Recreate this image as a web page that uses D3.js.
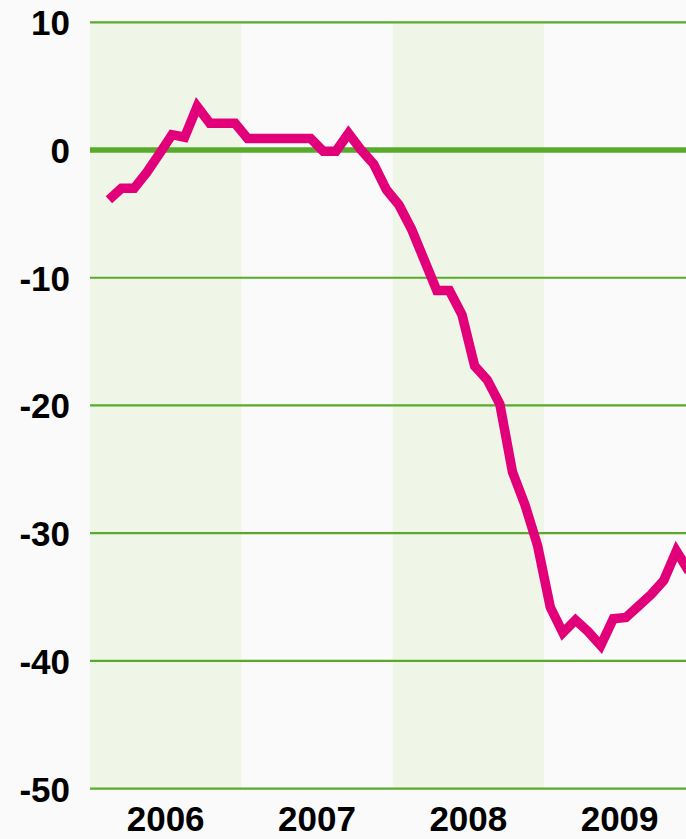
<!DOCTYPE html>
<html>
<head>
<meta charset="utf-8">
<script src="https://cdn.jsdelivr.net/npm/d3@7"></script>
<style>
  html, body { margin: 0; padding: 0; background: #fafafa; }
  svg { display: block; }
  text { font-family: "Liberation Sans", Arial, sans-serif; font-weight: bold; fill: #000; }
</style>
</head>
<body>
<svg id="chart" width="686" height="839"></svg>
<script>
// ---- data ----
const years = ["2006", "2007", "2008", "2009"];
const shadedYears = ["2006", "2008"];
const yTicks = [10, 0, -10, -20, -30, -40, -50];
// month index 0 = Jan 2006; series starts Feb 2006
const startMonth = 1;
const values = [
  -3.9, -3.0, -3.0, -1.75, -0.3, 1.2, 1.0, 3.4, 2.1, 2.1, 2.1,          // Feb-Dec 2006
  0.9, 0.9, 0.9, 0.9, 0.9, 0.9, -0.1, -0.1, 1.3, 0.0, -1.1, -3.1,        // 2007
  -4.3, -6.2, -8.6, -11.0, -11.0, -12.9, -16.9, -18.0, -19.9, -25.2, -27.8, -31.0, // 2008
  -35.8, -37.8, -36.8, -37.7, -38.8, -36.7, -36.6, -35.7, -34.8, -33.7, -31.4, -33.0 // 2009
];

// ---- layout ----
const svg = d3.select("#chart");
const x = d3.scaleLinear().domain([0, 48]).range([90, 695.3]);
const y = d3.scaleLinear().domain([-50, 10]).range([788.6, 22.3]);

// year bands
svg.append("g").selectAll("rect")
  .data(years.map((yr, i) => ({ yr, i })).filter(d => shadedYears.includes(d.yr)))
  .join("rect")
  .attr("x", d => x(d.i * 12))
  .attr("width", d => x(d.i * 12 + 12) - x(d.i * 12))
  .attr("y", y(10))
  .attr("height", y(-50) - y(10))
  .attr("fill", "#f0f6e7");

// gridlines
svg.append("g").selectAll("line")
  .data(yTicks)
  .join("line")
  .attr("x1", x(0))
  .attr("x2", 686)
  .attr("y1", d => y(d))
  .attr("y2", d => y(d))
  .attr("stroke", "#58aa2a")
  .attr("stroke-width", d => d === 0 ? 5.5 : 2.2);

// y labels
svg.append("g").selectAll("text")
  .data(yTicks)
  .join("text")
  .attr("x", 70)
  .attr("y", d => y(d) + 13)
  .attr("text-anchor", "end")
  .attr("font-size", 35)
  .text(d => d);

// x labels
svg.append("g").selectAll("text")
  .data(years)
  .join("text")
  .attr("x", (d, i) => x(i * 12 + 6))
  .attr("y", 831)
  .attr("text-anchor", "middle")
  .attr("font-size", 35)
  .text(d => d);

// line
const line = d3.line()
  .x((d, i) => x(startMonth + i + 0.5))
  .y(d => y(d));

svg.append("path")
  .datum(values)
  .attr("d", line)
  .attr("fill", "none")
  .attr("stroke", "#e2007a")
  .attr("stroke-width", 9.5)
  .attr("stroke-linejoin", "miter");
</script>
</body>
</html>
